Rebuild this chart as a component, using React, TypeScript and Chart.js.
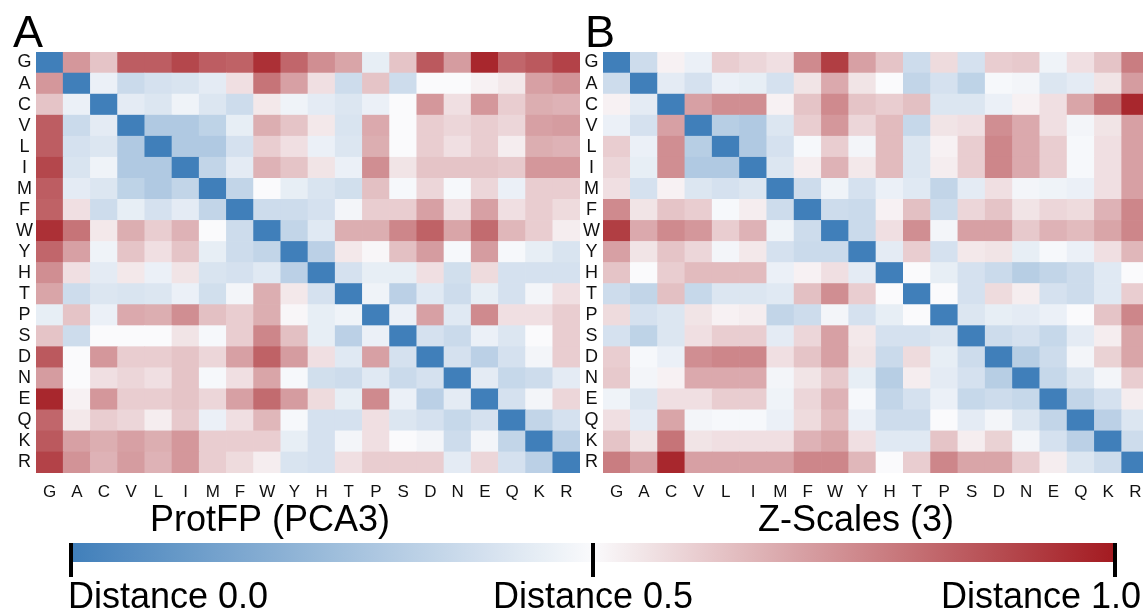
import React, { useEffect, useRef } from 'react';
import { Chart, registerables } from 'chart.js';

Chart.register(...registerables);

// Residue order used for both rows (top to bottom) and columns (left to right)
const residues = ['G', 'A', 'C', 'V', 'L', 'I', 'M', 'F', 'W', 'Y', 'H', 'T', 'P', 'S', 'D', 'N', 'E', 'Q', 'K', 'R'];

// Panel A: ProtFP (PCA3) distance matrix (rows in residue order)
const protfpRows: number[][] = [
  [0, .72, .62, .85, .85, .9, .85, .84, .95, .83, .74, .69, .45, .62, .86, .71, .97, .83, .86, .91],
  [.72, 0, .46, .37, .4, .41, .44, .56, .8, .7, .56, .38, .62, .38, .5, .5, .52, .54, .7, .73],
  [.62, .46, 0, .44, .42, .47, .42, .38, .54, .47, .44, .42, .46, .5, .72, .56, .72, .6, .67, .66],
  [.85, .37, .44, 0, .3, .3, .34, .45, .67, .62, .54, .41, .68, .5, .6, .58, .6, .58, .7, .71],
  [.85, .4, .42, .3, 0, .3, .3, .4, .6, .56, .46, .42, .67, .5, .6, .56, .6, .53, .67, .66],
  [.9, .41, .47, .3, .3, 0, .35, .44, .66, .62, .55, .46, .74, .55, .62, .62, .62, .61, .72, .72],
  [.85, .44, .42, .34, .3, .35, 0, .35, .5, .45, .41, .39, .63, .49, .58, .49, .58, .46, .6, .6],
  [.84, .56, .38, .45, .4, .44, .35, 0, .38, .38, .4, .48, .6, .6, .7, .56, .7, .56, .6, .57],
  [.95, .8, .54, .67, .6, .66, .5, .38, 0, .35, .43, .67, .67, .76, .84, .69, .82, .65, .6, .53],
  [.83, .7, .47, .62, .56, .62, .45, .38, .35, 0, .33, .54, .51, .63, .71, .49, .71, .49, .45, .41],
  [.74, .56, .44, .54, .46, .55, .41, .4, .43, .33, 0, .4, .45, .45, .56, .39, .57, .4, .4, .4],
  [.69, .38, .42, .41, .42, .46, .39, .48, .67, .54, .4, 0, .47, .33, .43, .38, .45, .4, .48, .56],
  [.45, .62, .46, .68, .67, .74, .63, .6, .67, .51, .45, .47, 0, .46, .7, .43, .75, .56, .56, .6],
  [.62, .38, .5, .5, .5, .55, .49, .6, .76, .63, .45, .33, .46, 0, .4, .37, .46, .42, .5, .6],
  [.86, .5, .72, .6, .6, .62, .58, .7, .84, .71, .56, .43, .7, .4, 0, .4, .33, .4, .48, .6],
  [.71, .5, .56, .58, .56, .62, .49, .56, .69, .49, .39, .38, .43, .37, .4, 0, .44, .36, .38, .44],
  [.97, .52, .72, .6, .6, .62, .58, .7, .82, .71, .57, .45, .75, .46, .33, .44, 0, .4, .48, .58],
  [.83, .54, .6, .58, .53, .61, .46, .56, .65, .49, .4, .4, .56, .42, .4, .36, .4, 0, .35, .4],
  [.86, .7, .67, .7, .67, .72, .6, .6, .6, .45, .4, .48, .56, .5, .48, .38, .48, .35, 0, .33],
  [.91, .73, .66, .71, .66, .72, .6, .57, .53, .41, .4, .56, .6, .6, .6, .44, .58, .4, .33, 0],
];

// Panel B: Z-Scales (3) distance matrix (rows in residue order)
const zscalesRows: number[][] = [
  [0, .38, .52, .46, .6, .58, .56, .75, .92, .7, .62, .38, .57, .4, .6, .61, .47, .56, .62, .78],
  [.38, 0, .44, .4, .46, .45, .4, .55, .68, .55, .5, .35, .4, .34, .49, .48, .42, .44, .55, .71],
  [.52, .44, 0, .7, .74, .74, .52, .62, .75, .62, .6, .63, .42, .42, .46, .52, .56, .69, .8, .97],
  [.46, .4, .7, 0, .32, .3, .42, .6, .72, .58, .64, .36, .55, .56, .74, .68, .56, .48, .55, .7],
  [.6, .46, .74, .32, 0, .3, .4, .49, .6, .48, .64, .42, .52, .6, .76, .68, .6, .49, .56, .7],
  [.58, .45, .74, .3, .3, 0, .42, .53, .66, .54, .64, .42, .53, .6, .76, .68, .6, .49, .56, .7],
  [.56, .4, .52, .42, .4, .42, 0, .38, .47, .4, .46, .43, .35, .44, .56, .48, .47, .46, .56, .7],
  [.75, .55, .62, .6, .49, .53, .38, 0, .38, .37, .52, .63, .38, .58, .62, .55, .58, .57, .66, .76],
  [.92, .68, .75, .72, .6, .66, .47, .38, 0, .37, .56, .74, .48, .7, .7, .61, .66, .64, .69, .76],
  [.7, .55, .62, .58, .48, .54, .4, .37, .37, 0, .44, .6, .4, .54, .55, .45, .49, .46, .56, .65],
  [.62, .5, .6, .64, .64, .64, .46, .52, .56, .44, 0, .5, .45, .4, .37, .32, .35, .38, .43, .5],
  [.38, .35, .63, .36, .42, .42, .43, .63, .74, .6, .5, 0, .5, .4, .57, .53, .4, .38, .43, .6],
  [.57, .4, .42, .55, .52, .53, .35, .38, .48, .4, .45, .5, 0, .42, .45, .44, .46, .5, .62, .76],
  [.4, .34, .42, .56, .6, .6, .44, .58, .7, .54, .4, .4, .42, 0, .38, .4, .36, .44, .53, .69],
  [.6, .49, .46, .74, .76, .76, .56, .62, .7, .55, .37, .57, .45, .38, 0, .32, .38, .48, .59, .69],
  [.61, .48, .52, .68, .68, .68, .48, .55, .61, .45, .32, .53, .44, .4, .32, 0, .36, .42, .48, .6],
  [.47, .42, .56, .56, .6, .6, .47, .58, .66, .49, .35, .4, .46, .36, .38, .36, 0, .35, .4, .53],
  [.56, .44, .69, .48, .49, .49, .46, .57, .64, .46, .38, .38, .5, .44, .48, .42, .35, 0, .33, .42],
  [.62, .55, .8, .55, .56, .56, .56, .66, .69, .56, .43, .43, .62, .53, .59, .48, .4, .33, 0, .38],
  [.78, .71, .97, .7, .7, .7, .7, .76, .76, .65, .5, .6, .76, .69, .69, .6, .53, .42, .38, 0],
];

const panelLetters = ['A', 'B'];
const panelTitles = ['ProtFP (PCA3)', 'Z-Scales (3)'];
const colorbarTicks = [0, 0.5, 1.0];
const colorbarPrefix = 'Distance';

const FONT = '"Liberation Sans", Arial, Helvetica, sans-serif';
const BLUE = [64, 127, 186];
const WHITE = [250, 250, 252];
const RED = [163, 26, 32];

function mix(a: number[], b: number[], t: number) {
  return a.map((v, i) => Math.round(v + (b[i] - v) * t));
}
function colorFor(v: number) {
  const c = v <= 0.5 ? mix(BLUE, WHITE, v / 0.5) : mix(WHITE, RED, (v - 0.5) / 0.5);
  return `rgb(${c[0]},${c[1]},${c[2]})`;
}

type PanelOpts = {
  matrix: number[][];
  letter: string;
  title: string;
  yAxisWidth: number;
  padRight: number;
  letterDx: number;
  titleDx: number;
};

function heatmapConfig(o: PanelOpts): any {
  const datasets = residues
    .map((row, r) => ({
      label: row,
      data: residues.map(() => 1),
      backgroundColor: o.matrix[r].map(colorFor),
      borderWidth: 0,
      barPercentage: 1,
      categoryPercentage: 1,
    }))
    .reverse();
  const decor = {
    id: 'decor' + o.letter,
    afterDraw(chart: any) {
      const { ctx, chartArea } = chart;
      ctx.save();
      ctx.fillStyle = '#000';
      ctx.textBaseline = 'alphabetic';
      ctx.textAlign = 'left';
      ctx.font = `45px ${FONT}`;
      ctx.fillText(o.letter, chartArea.left + o.letterDx, 47);
      ctx.textAlign = 'center';
      ctx.font = `36px ${FONT}`;
      ctx.fillText(o.title, chartArea.left + o.titleDx, 531);
      ctx.restore();
    },
  };
  return {
    type: 'bar',
    data: { labels: residues, datasets },
    plugins: [decor],
    options: {
      responsive: false,
      animation: false,
      events: [],
      layout: { padding: { top: 52, left: 0, right: o.padRight, bottom: 40 } },
      plugins: { legend: { display: false }, tooltip: { enabled: false }, title: { display: false } },
      scales: {
        x: {
          type: 'category',
          stacked: true,
          grid: { display: false, drawTicks: false },
          border: { display: false },
          ticks: { color: '#111', font: { size: 17, family: FONT }, padding: 9, maxRotation: 0, autoSkip: false },
          afterFit: (a: any) => { a.height = 27; },
        },
        y: {
          type: 'linear',
          stacked: true,
          min: 0,
          max: 20,
          grid: { display: false, drawTicks: false },
          border: { display: false },
          afterBuildTicks: (a: any) => {
            a.ticks = residues.map((_, i) => ({ value: 19.5 - i }));
          },
          ticks: {
            autoSkip: false,
            color: '#111',
            crossAlign: 'center',
            padding: 3,
            font: { size: 18, family: FONT },
            callback: (v: number) => residues[Math.round(19.5 - v)],
          },
          afterFit: (a: any) => { a.width = o.yAxisWidth; },
        },
      },
    },
  };
}

function colorbarConfig(): any {
  const labelsPlugin = {
    id: 'cbLabels',
    afterDraw(chart: any) {
      const { ctx } = chart;
      const xs = chart.scales.x;
      ctx.save();
      ctx.fillStyle = '#000';
      ctx.font = `36px ${FONT}`;
      ctx.textBaseline = 'alphabetic';
      colorbarTicks.forEach((t, i) => {
        const px = xs.getPixelForValue(t);
        const text = `${colorbarPrefix} ${t.toFixed(1)}`;
        if (i === 0) { ctx.textAlign = 'left'; ctx.fillText(text, px - 3, 73); }
        else if (i === colorbarTicks.length - 1) { ctx.textAlign = 'right'; ctx.fillText(text, px + 26, 73); }
        else { ctx.textAlign = 'center'; ctx.fillText(text, px, 73); }
      });
      ctx.restore();
    },
  };
  return {
    type: 'bar',
    data: {
      labels: [colorbarPrefix],
      datasets: [{
        data: [[colorbarTicks[0], colorbarTicks[colorbarTicks.length - 1]]],
        borderWidth: 0,
        barPercentage: 1,
        categoryPercentage: 1,
        backgroundColor: (c: any) => {
          const area = c.chart.chartArea;
          if (!area) return '#fff';
          const g = c.chart.ctx.createLinearGradient(area.left, 0, area.right, 0);
          for (let i = 0; i <= 20; i++) g.addColorStop(i / 20, colorFor(i / 20));
          return g;
        },
      }],
    },
    plugins: [labelsPlugin],
    options: {
      indexAxis: 'y',
      responsive: false,
      animation: false,
      events: [],
      layout: { padding: { top: 8, left: 71, right: 28, bottom: 0 } },
      plugins: { legend: { display: false }, tooltip: { enabled: false } },
      scales: {
        x: {
          type: 'linear',
          min: 0,
          max: 1,
          afterBuildTicks: (a: any) => { a.ticks = colorbarTicks.map((v) => ({ value: v })); },
          grid: {
            z: 1,
            drawOnChartArea: true,
            drawTicks: true,
            tickLength: 15,
            lineWidth: 4,
            tickWidth: 4,
            color: '#000',
            tickColor: '#000',
          },
          border: { display: false },
          ticks: { display: false },
          afterFit: (a: any) => { a.height = 53; },
        },
        y: { display: false },
      },
    },
  };
}

export default function App() {
  const refA = useRef<HTMLCanvasElement>(null);
  const refB = useRef<HTMLCanvasElement>(null);
  const refC = useRef<HTMLCanvasElement>(null);

  useEffect(() => {
    const charts: Chart[] = [];
    if (refA.current) {
      charts.push(new Chart(refA.current, heatmapConfig({
        matrix: protfpRows, letter: panelLetters[0], title: panelTitles[0],
        yAxisWidth: 36, padRight: 20, letterDx: -23, titleDx: 234,
      })));
    }
    if (refB.current) {
      charts.push(new Chart(refB.current, heatmapConfig({
        matrix: zscalesRows, letter: panelLetters[1], title: panelTitles[1],
        yAxisWidth: 43, padRight: 11, letterDx: -18, titleDx: 253,
      })));
    }
    if (refC.current) {
      charts.push(new Chart(refC.current, colorbarConfig()));
    }
    return () => charts.forEach((c) => c.destroy());
  }, []);

  const abs = (left: number, top: number, w: number, h: number): React.CSSProperties => ({
    position: 'absolute', left, top, width: w, height: h, display: 'block',
  });

  return (
    <div style={{ position: 'absolute', left: 0, top: 0, width: 1143, height: 615, overflow: 'hidden', background: '#fff' }}>
      <canvas ref={refA} width={600} height={540} style={abs(0, 0, 600, 540)} />
      <canvas ref={refB} width={600} height={540} style={abs(560, 0, 600, 540)} />
      <canvas ref={refC} width={1143} height={80} style={abs(0, 535, 1143, 80)} />
    </div>
  );
}
